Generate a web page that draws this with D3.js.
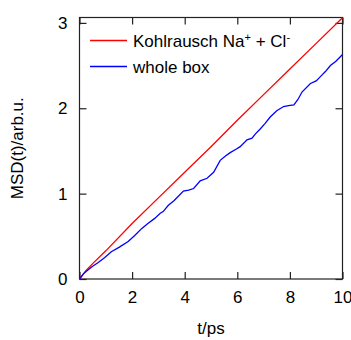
<!DOCTYPE html>
<html>
<head>
<meta charset="utf-8">
<script src="https://cdn.jsdelivr.net/npm/d3@7"></script>
<style>
  html, body { margin: 0; padding: 0; background: #fff; }
  svg text { font-family: "Liberation Sans", Arial, sans-serif; fill: #000; }
</style>
</head>
<body>
<svg id="chart" width="351" height="340"></svg>
<script>
// ---- data ----
const xTicks = [0, 2, 4, 6, 8, 10];
const yTicks = [0, 1, 2, 3];

const redT = [0, 0.25, 0.5, 1, 2, 3, 4, 5, 6, 7, 8, 9, 10];
const redV = [0, 0.10, 0.18, 0.33, 0.65, 0.95, 1.25, 1.55, 1.86, 2.16, 2.46, 2.76, 3.06];

const blueT = [0, 0.15, 0.32, 0.5, 0.7, 0.95, 1.21, 1.5, 1.85, 2.1, 2.36, 2.6, 2.86, 3.07, 3.18, 3.37, 3.6, 3.95, 4.15, 4.34, 4.59, 4.85, 5.1, 5.35, 5.55, 5.73, 5.95, 6.11, 6.37, 6.56, 6.69, 6.88, 7.05, 7.26, 7.5, 7.76, 7.95, 8.15, 8.3, 8.46, 8.78, 9.0, 9.16, 9.35, 9.54, 9.75, 10];
const blueV = [0, 0.06, 0.105, 0.15, 0.19, 0.25, 0.32, 0.37, 0.44, 0.51, 0.59, 0.65, 0.71, 0.77, 0.79, 0.86, 0.92, 1.03, 1.04, 1.06, 1.15, 1.18, 1.25, 1.39, 1.44, 1.48, 1.52, 1.55, 1.63, 1.65, 1.70, 1.76, 1.82, 1.90, 1.97, 2.02, 2.03, 2.04, 2.10, 2.19, 2.29, 2.32, 2.37, 2.43, 2.50, 2.55, 2.63];

const seriesNames = ["Kohlrausch Na", "whole box"];
const seriesColors = ["#ff0000", "#0000ff"];

// ---- layout ----
const svg = d3.select("#chart");
const L = 79.5, R = 342.5, T = 17.5, B = 279;
const x = d3.scaleLinear().domain([0, 10]).range([L, R]);
const y = d3.scaleLinear().domain([0, 3.063]).range([B, T]);
const tickLen = 7;
const axisColor = "#222";

// frame
svg.append("rect").attr("x", L).attr("y", T).attr("width", R - L).attr("height", B - T)
  .attr("fill", "none").attr("stroke", axisColor).attr("stroke-width", 1.2);

// axes via d3 (inward ticks)
const fs = "17px";
const gx = svg.append("g").attr("transform", `translate(0,${B})`)
  .call(d3.axisBottom(x).tickValues(xTicks).tickSize(-tickLen).tickPadding(tickLen + 5).tickFormat(d3.format("d")));
const gxTop = svg.append("g").attr("transform", `translate(0,${T})`)
  .call(d3.axisTop(x).tickValues(xTicks).tickSize(-tickLen).tickFormat(""));
const gy = svg.append("g").attr("transform", `translate(${L},0)`)
  .call(d3.axisLeft(y).tickValues(yTicks).tickSize(-tickLen).tickPadding(tickLen + 5).tickFormat(d3.format("d")));
const gyR = svg.append("g").attr("transform", `translate(${R},0)`)
  .call(d3.axisRight(y).tickValues(yTicks).tickSize(-tickLen).tickFormat(""));

[gx, gxTop, gy, gyR].forEach(g => {
  g.select(".domain").remove();
  g.selectAll(".tick line").attr("stroke", axisColor).attr("stroke-width", 1.2);
  g.selectAll("text").attr("font-size", fs).attr("fill", "#000")
    .style("font-family", '"Liberation Sans", Arial, sans-serif');
});

// lines
const lineGen = d3.line().x(d => x(d[0])).y(d => y(d[1]));
const redData = redT.map((t, i) => [t, redV[i]]);
const blueData = blueT.map((t, i) => [t, blueV[i]]);
svg.append("path").datum(redData).attr("d", lineGen).attr("fill", "none")
  .attr("stroke", seriesColors[0]).attr("stroke-width", 1.3);
svg.append("path").datum(blueData).attr("d", lineGen).attr("fill", "none")
  .attr("stroke", seriesColors[1]).attr("stroke-width", 1.3);

// legend
const legY = [40.5, 66.5];
legY.forEach((ly, i) => {
  svg.append("line").attr("x1", 90).attr("x2", 127).attr("y1", ly).attr("y2", ly)
    .attr("stroke", seriesColors[i]).attr("stroke-width", 1.3);
});
const t1 = svg.append("text").attr("x", 133).attr("y", legY[0] + 6.5).attr("font-size", fs);
t1.append("tspan").text(seriesNames[0]);
t1.append("tspan").attr("font-size", "11px").attr("dy", -6).text("+");
t1.append("tspan").attr("dy", 6).text(" + Cl");
t1.append("tspan").attr("font-size", "11px").attr("dy", -6).text("-");
svg.append("text").attr("x", 133).attr("y", legY[1] + 6.5).attr("font-size", fs).text(seriesNames[1]);

// axis titles
svg.append("text").attr("x", (L + R) / 2).attr("y", 334).attr("text-anchor", "middle")
  .attr("font-size", fs).text("t/ps");
svg.append("text").attr("transform", `translate(23,${(T + B) / 2}) rotate(-90)`)
  .attr("text-anchor", "middle").attr("font-size", fs).text("MSD(t)/arb.u.");
</script>
</body>
</html>
